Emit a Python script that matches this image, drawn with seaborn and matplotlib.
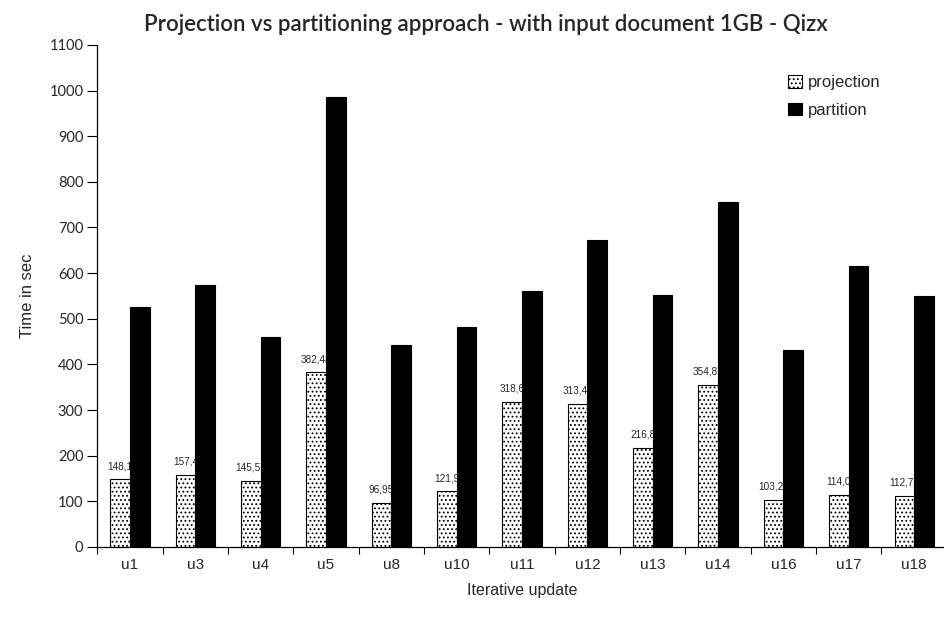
import matplotlib
matplotlib.use("Agg")
import matplotlib.pyplot as plt
import seaborn as sns
import pandas as pd

categories = ["u1", "u3", "u4", "u5", "u8", "u10", "u11", "u12", "u13", "u14", "u16", "u17", "u18"]
projection = [148.1, 157.4, 145.52, 382.48, 96.95, 121.9, 318.6, 313.44, 216.8, 354.87, 103.28, 114.0, 112.78]
partition = [526, 575, 460, 985, 443, 483, 560, 673, 553, 755, 432, 616, 550]
proj_labels = ["148,1", "157,4", "145,52", "382,48", "96,95", "121,9", "318,6", "313,44", "216,8", "354,87", "103,28", "114,0", "112,78"]
yticks = list(range(0, 1101, 100))

sns.set_theme(style="white")
plt.rcParams["font.family"] = ["Liberation Sans", "DejaVu Sans"]
plt.rcParams["hatch.linewidth"] = 0.8

df = pd.DataFrame({
    "update": categories * 2,
    "time": projection + partition,
    "series": ["projection"] * len(categories) + ["partition"] * len(categories),
})

fig = plt.figure(figsize=(9.44, 6.23), dpi=100)
ax = fig.add_axes([0.103, 0.122, 0.900, 0.806])

sns.barplot(data=df, x="update", y="time", hue="series", order=categories,
            hue_order=["projection", "partition"],
            palette={"projection": "white", "partition": "black"},
            width=0.6, edgecolor="black", linewidth=0.8, ax=ax, legend=True)

for bar in ax.containers[0]:
    bar.set_hatch("....")
    bar.set_zorder(2)
for bar in ax.containers[1]:
    bar.set_zorder(4)

for bar, lab in zip(ax.containers[0], proj_labels):
    cx = bar.get_x() + bar.get_width() / 2
    ax.annotate(lab, (cx, bar.get_height()), xytext=(0, 6), textcoords="offset points",
                ha="center", va="bottom", fontsize=7.2, zorder=3)

ax.set_xlim(-0.5, len(categories) - 0.5)
ax.set_ylim(0, 1100)
ax.set_yticks(yticks)
ax.set_yticklabels([str(t) for t in yticks], fontfamily="Lato", fontsize=10.5)
ax.set_xticks(range(len(categories)))
ax.set_xticklabels(categories, fontsize=11)
ax.tick_params(axis="x", length=0, pad=8)
ax.set_xticks([i - 0.5 for i in range(len(categories) + 1)], minor=True)
ax.tick_params(axis="x", which="minor", direction="out", length=5, width=0.8, bottom=True, color="black")
ax.tick_params(axis="y", direction="out", length=7, width=0.8, left=True, color="black", pad=3)

for s in ["top", "right"]:
    ax.spines[s].set_visible(False)
for s in ["left", "bottom"]:
    ax.spines[s].set_color("black")
    ax.spines[s].set_linewidth(0.9)

ax.set_xlabel("Iterative update", fontsize=11.5, labelpad=8)
ax.set_ylabel("Time in sec", fontsize=12, labelpad=10)
ax.set_title("Projection vs partitioning approach - with input document 1GB - Qizx",
             fontfamily="Lato", fontweight="semibold", fontsize=16, pad=10, x=0.458)

leg = ax.legend(loc="upper right", bbox_to_anchor=(0.94, 0.97), frameon=False, fontsize=12,
                handlelength=0.8, handleheight=0.8, handletextpad=0.4, labelspacing=0.75)
for h in leg.legend_handles:
    h.set_edgecolor("black")
leg.legend_handles[0].set_hatch("....")

fig.savefig("out.png", dpi=100)
